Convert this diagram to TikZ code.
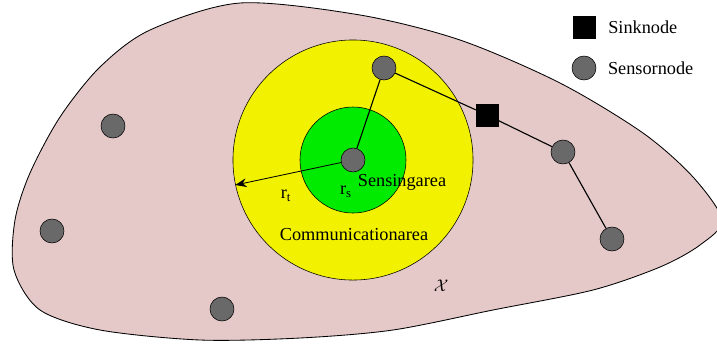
\documentclass[tikz,border=0pt]{standalone}
\usepackage{fontspec}
\setmainfont{Liberation Serif}
\usetikzlibrary{arrows.meta, positioning}
\definecolor{fieldPink}{RGB}{229,200,200}
\definecolor{commYellow}{RGB}{242,242,0}
\definecolor{senseGreen}{RGB}{0,235,0}
\definecolor{nodeGray}{RGB}{105,105,105}

\begin{document}
\begin{tikzpicture}[x=0.025cm, y=-0.025cm, font=\fontsize{13}{15}\selectfont,
    sensor/.style={circle, draw, fill=nodeGray, minimum size=0.6cm, inner sep=0pt},
    sink/.style={rectangle, draw, fill=black, minimum size=0.55cm, inner sep=0pt},
    link/.style={line width=0.8pt}]
  \useasboundingbox (0,0) rectangle (717,345);
  \clip (0,0) rectangle (717,345);
  % Deployment field
  \draw[fill=fieldPink, line width=0.6pt] plot[smooth cycle] coordinates {
    (240,3) (360,15) (460,40) (560,83) (643,133) (693,177) (722,220) (700,245)
    (660,267) (593,290) (493,310) (393,330) (300,338) (200,340) (100,330)
    (40,310) (14,270) (15,220) (30,173) (60,117) (100,67) (150,30)};
  % Coverage areas
  \node[circle, draw, fill=commYellow, minimum size=6cm] (comm) at (353,160) {};
  \node[circle, draw, fill=senseGreen, minimum size=2.65cm] (sense) at (353,160) {};
  % Sensors and sink
  \node[sensor] (ctr) at (353,160) {};
  \node[sensor] (top) at (384,68) {};
  \node[sink] (sink) at (487,115) {};
  \node[sensor] (east) at (563,152) {};
  \node[sensor] (southeast) at (612,239) {};
  \node[sensor] (west) at (113,126) {};
  \node[sensor] (farwest) at (52,231) {};
  \node[sensor] (south) at (222,309) {};
  % Route to the sink
  \draw[link] (ctr) -- (top);
  \draw[link] (top) -- (sink) -- (east) -- (southeast);
  % Transmission radius
  \draw[-{Stealth[length=2.8mm, width=2.2mm]}, line width=0.6pt] (ctr) -- (comm.192);
  % Labels
  \node (rt) at (286,196) {r\textsubscript{t}};
  \node (rs) at (346,192) {r\textsubscript{s}};
  \node (senselbl) at (402,182) {Sensingarea};
  \node (commlbl) at (354,235) {Communicationarea};
  \node (field) at (441,286) {$\mathcal{X}$};
  % Legend
  \node[sink] (legsink) at (584,27) {};
  \node[right=0.2cm of legsink] (legsinklbl) {Sinknode};
  \node[sensor] (legsensor) at (584,68) {};
  \node[right=0.17cm of legsensor] (legsensorlbl) {Sensornode};
\end{tikzpicture}
\end{document}
